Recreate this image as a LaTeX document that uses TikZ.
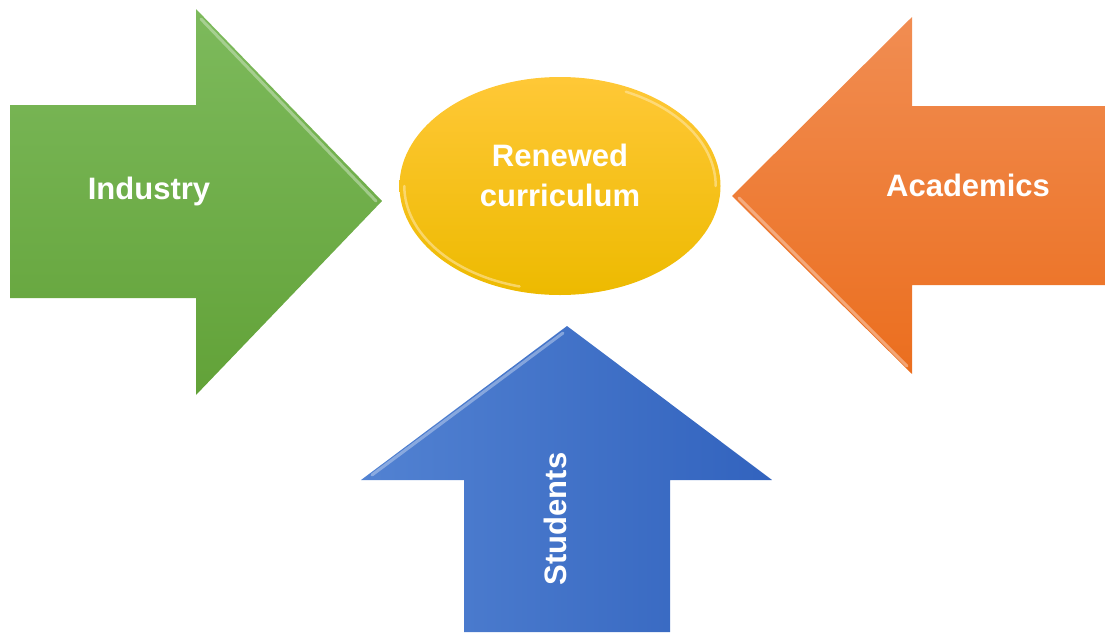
\documentclass[tikz,border=0pt]{standalone}
\usepackage{fontspec}
\setmainfont{Liberation Sans}
\usetikzlibrary{shapes.geometric}
\definecolor{gtop}{HTML}{7DBA5C}
\definecolor{gbot}{HTML}{62A238}
\definecolor{otop}{HTML}{F18D52}
\definecolor{obot}{HTML}{EB6E1E}
\definecolor{bleft}{HTML}{5282D2}
\definecolor{bright}{HTML}{3263BE}
\definecolor{ytop}{HTML}{FFC837}
\definecolor{ybot}{HTML}{EDBA00}
\tikzset{
  lbl/.style={text=white, font=\bfseries\fontsize{31}{40}\selectfont, align=center},
  bevel/.style={line width=3pt, line cap=round, opacity=0.55},
}
\begin{document}
\begin{tikzpicture}[x=1pt,y=-1pt]
\useasboundingbox (0,0) rectangle (1105,632);
% green arrow (Industry)
\path[top color=gtop, bottom color=gbot]
  (10,105) -- (196,105) -- (196,9) -- (382,201) -- (196,395) -- (196,298) -- (10,298) -- cycle;
\draw[bevel, color=gtop!40!white] (201,19) -- (376,201);
% orange arrow (Academics)
\path[top color=otop, bottom color=obot]
  (1105,106) -- (912,106) -- (912,17) -- (732,196) -- (912,374) -- (912,285) -- (1105,285) -- cycle;
\draw[bevel, color=otop!40!white] (739,198) -- (907,366);
% blue arrow (Students)
\path[left color=bleft, right color=bright]
  (464,632) -- (464,480) -- (361,480) -- (567,326) -- (772,480) -- (670,480) -- (670,632) -- cycle;
\draw[bevel, color=bleft!40!white] (372,475) -- (563,333);
% ellipse
\node[ellipse, minimum width=321pt, minimum height=218pt, inner sep=0pt,
      top color=ytop, bottom color=ybot] (core) at (560,186) {};
\draw[line width=2.5pt, line cap=round, color=ytop!45!white, opacity=0.6]
  ([xshift=5pt]core.west) arc[start angle=180, end angle=255, x radius=155.5pt, y radius=104pt];
\draw[line width=2.5pt, line cap=round, color=ytop!45!white, opacity=0.6]
  ([xshift=-5pt]core.east) arc[start angle=0, end angle=65, x radius=155.5pt, y radius=104pt];
% labels
\node[lbl] (industry) at (149,191) {Industry};
\node[lbl] (academics) at (968,185) {Academics};
\node[lbl] (renewed) at (560,175) {Renewed\\curriculum};
\node[lbl, rotate=90] (students) at (555,519) {Students};
\end{tikzpicture}
\end{document}
